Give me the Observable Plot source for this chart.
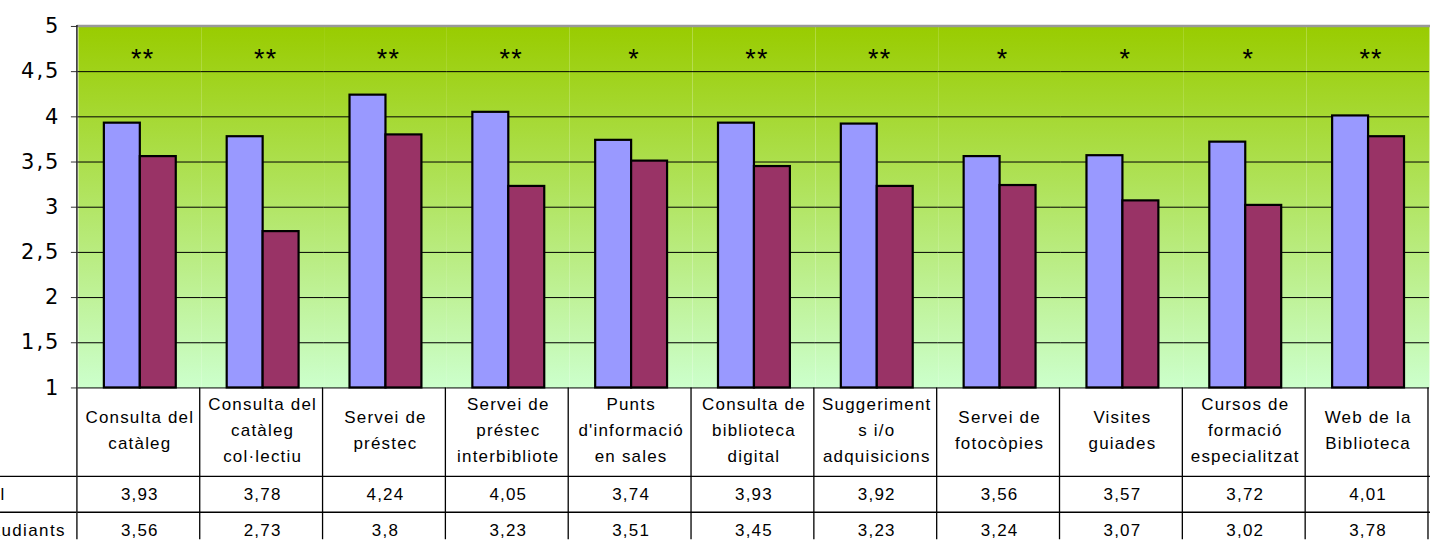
<!DOCTYPE html>
<html><head><meta charset="utf-8">
<script src="https://cdn.jsdelivr.net/npm/d3@7"></script>
<script src="https://cdn.jsdelivr.net/npm/@observablehq/plot@0.6"></script>
<style>
html,body{margin:0;padding:0;background:#fff;overflow:hidden;width:1430px;height:540px}
#chart{position:relative;width:1430px;height:540px;overflow:hidden}
g[aria-label="text"] text{letter-spacing:1.2px}
g[aria-label="y-axis tick label"] text{letter-spacing:2px;font-family:'DejaVu Sans',sans-serif}
</style></head><body><div id="chart"></div>
<script>
const categories = [
  "Consulta del\ncatàleg",
  "Consulta del\ncatàleg\ncol·lectiu",
  "Servei de\npréstec",
  "Servei de\npréstec\ninterbibliote",
  "Punts\nd'informació\nen sales",
  "Consulta de\nbiblioteca\ndigital",
  "Suggeriment\ns i/o\nadquisicions",
  "Servei de\nfotocòpies",
  "Visites\nguiades",
  "Cursos de\nformació\nespecialitzat",
  "Web de la\nBiblioteca"
];
const rowLabels = ["l", "Estudiants"];
const personal   = [3.93, 3.78, 4.24, 4.05, 3.74, 3.93, 3.92, 3.56, 3.57, 3.72, 4.01];
const estudiants = [3.56, 2.73, 3.80, 3.23, 3.51, 3.45, 3.23, 3.24, 3.07, 3.02, 3.78];
const stars = ["**", "**", "**", "**", "*", "**", "**", "*", "*", "*", "**"];
const yTicks = [1, 1.5, 2, 2.5, 3, 3.5, 4, 4.5, 5];
const colors = ["#9999FF", "#993366"];

const bars = categories.flatMap((c, i) => [
  {cat: c, s: rowLabels[0], v: personal[i]},
  {cat: c, s: rowLabels[1], v: estudiants[i]}
]);
const fmt = v => String(v).replace(".", ",");
const W = 1432, H = 540;
const font = "'Liberation Sans', Arial, sans-serif";

const plot = Plot.plot({
  width: W, height: H,
  marginLeft: 77, marginRight: 0, marginTop: 26, marginBottom: 152,
  style: {fontFamily: font, background: "transparent", overflow: "visible", color: "#000"},
  fx: {domain: categories, padding: 0, axis: null},
  x: {domain: rowLabels, paddingInner: 0, paddingOuter: 0.665, axis: null},
  y: {domain: [1, 5], axis: null},
  color: {domain: rowLabels, range: colors},
  marks: [
    Plot.frame({fill: "url(#bg)", stroke: null}),
    Plot.ruleY(yTicks, {stroke: "#000", strokeWidth: 1}),
    Plot.barY(bars, {fx: "cat", x: "s", y1: 1, y2: "v", fill: "s", stroke: "#000", strokeWidth: 2.2}),
    Plot.text(stars, {fx: (d, i) => categories[i], text: d => d, frameAnchor: "top", lineAnchor: "middle", dy: 33, dx: 3, fontSize: 27, fill: "#000"}),
    Plot.text(categories, {fx: d => d, text: d => d, frameAnchor: "bottom", lineAnchor: "middle", dy: 40, fontSize: 17, lineHeight: 1.53}),
    Plot.text(personal, {fx: (d, i) => categories[i], text: fmt, frameAnchor: "bottom", lineAnchor: "middle", dy: 107, fontSize: 17}),
    Plot.text(estudiants, {fx: (d, i) => categories[i], text: fmt, frameAnchor: "bottom", lineAnchor: "middle", dy: 143, fontSize: 17}),
    Plot.axisY({ticks: yTicks, tickFormat: fmt, tickSize: 7, tickPadding: 11, fontSize: 21, anchor: "left", stroke: "#333", label: null})
  ]
});

const svg = d3.select(plot);
const defs = svg.insert("defs", ":first-child");
const g = defs.append("linearGradient").attr("id", "bg").attr("x1", 0).attr("y1", 0).attr("x2", 0).attr("y2", 1);
g.append("stop").attr("offset", "0%").attr("stop-color", "#99CC00");
g.append("stop").attr("offset", "100%").attr("stop-color", "#CCFFCC");

// table lines & frame edges built from the library's scales
const fx = plot.scale("fx");
const y = plot.scale("y");
const yTop = y.range ? Math.min(...y.range) : 26;
const yBot = y.range ? Math.max(...y.range) : 388;
const step = fx.step ?? ((fx.range[1] - fx.range[0]) / categories.length);
const x0 = fx.range[0];
const layer = svg.append("g").attr("stroke", "#000").attr("stroke-width", 1.3);
const rowY = [yBot + 89, yBot + 125];
categories.forEach((c, i) => {
  const xb = x0 + step * (i + 1);
  layer.append("line").attr("x1", xb).attr("x2", xb).attr("y1", yBot).attr("y2", H);
});
rowY.forEach(ry => layer.append("line").attr("x1", 0).attr("x2", W).attr("y1", ry).attr("y2", ry));
// top border and left axis line
svg.append("line").attr("x1", x0).attr("x2", W).attr("y1", yTop).attr("y2", yTop).attr("stroke", "#999").attr("stroke-width", 2.5);
svg.append("line").attr("x1", x0).attr("x2", x0).attr("y1", yTop - 1).attr("y2", H).attr("stroke", "#222").attr("stroke-width", 1.5);
// row labels (their column is clipped at the left edge, as in the reference)
const rl = svg.append("g").attr("font-family", font).attr("font-size", 17).style("letter-spacing", "1.4px");
rl.append("text").attr("x", 3).attr("y", rowY[0] + 18).attr("dy", "0.32em").text(rowLabels[0]);
rl.append("text").attr("x", 66).attr("text-anchor", "end").attr("y", rowY[1] + 18).attr("dy", "0.32em").text(rowLabels[1]);

document.getElementById("chart").appendChild(plot);
</script></body></html>
